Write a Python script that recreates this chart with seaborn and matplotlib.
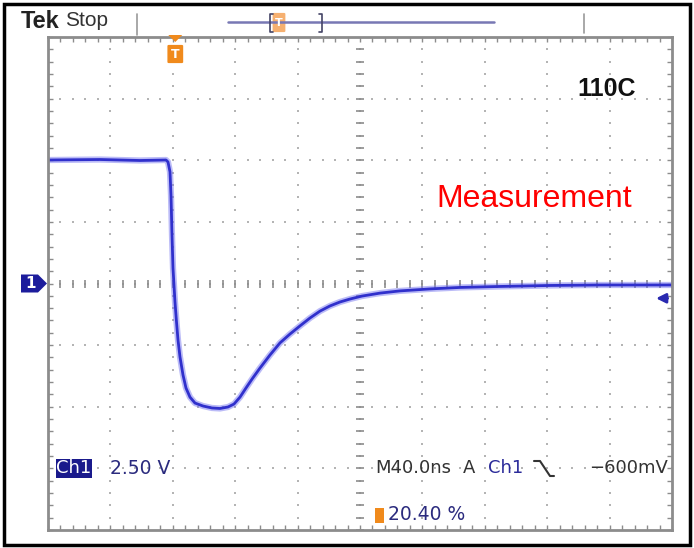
import numpy as np
import pandas as pd
import matplotlib
matplotlib.use("Agg")
import matplotlib.pyplot as plt
import seaborn as sns
from matplotlib.patches import Polygon, Rectangle, FancyBboxPatch
from matplotlib.lines import Line2D

# ---------------- data ----------------
time_ns = [-81.6, -48.3, -22.6, -5.96, -4.68, -3.40, -2.76, -2.12, -1.48, -0.84, -0.20,
           0.77, 1.73, 3.01, 4.94, 6.86, 9.42, 12.63, 17.76, 23.52, 28.65, 33.78, 37.63,
           41.47, 45.32, 49.16, 54.29, 60.70, 67.11, 73.52, 79.93, 86.34, 92.75, 99.16,
           105.57, 111.98, 119.67, 131.21, 144.03, 163.26, 182.49, 208.13, 240.18,
           272.23, 318.4]
volts = [5.01, 5.03, 4.99, 5.01, 4.93, 4.53, 3.59, 1.97, 0.63, -0.06, -0.75,
         -1.56, -2.29, -2.98, -3.71, -4.24, -4.61, -4.85, -4.97, -5.05, -5.07, -5.01, -4.89,
         -4.61, -4.24, -3.88, -3.43, -2.90, -2.41, -2.05, -1.72, -1.40, -1.12, -0.91,
         -0.75, -0.63, -0.51, -0.39, -0.30, -0.22, -0.16, -0.12, -0.08,
         -0.06, -0.06]

volts_per_div = 2.5
ns_per_div = 40.0
trigger_pct = 20.40
trigger_level = -0.6
header_left = "Tek"
header_right = "Stop"
temp_label = "110C"
note_label = "Measurement"
ch_label = "Ch1"
scale_label = "2.50 V"
time_label = "M40.0ns"
src_a = "A"
level_label = "\u2212600mV"
pos_label = "20.40 %"

df = pd.DataFrame({"time": time_ns, "volt": volts})

# ---------------- figure ----------------
sns.set_theme(style="white")
plt.rcParams['font.family'] = ['DejaVu Sans']
W, H = 694, 548
fig = plt.figure(figsize=(W / 100, H / 100), dpi=100)
fig.patch.set_facecolor("white")

def fx(px):
    return px / W

def fy(py):
    return 1 - py / H

L, R, T, B = 48, 672, 37, 530
ax = fig.add_axes([fx(L), fy(B), (R - L) / W, (B - T) / H])

t_left = -trigger_pct / 100 * 10 * ns_per_div
t_right = t_left + 10 * ns_per_div
ax.set_xlim(t_left, t_right)
ax.set_ylim(-4 * volts_per_div, 4 * volts_per_div)

# graticule dots
grid_col = "#b4b4b4"
xmaj = t_left + ns_per_div * np.arange(0, 11)
ymaj = volts_per_div * np.arange(-4, 5)
xmin = t_left + ns_per_div / 5 * np.arange(0, 51)
ymin = volts_per_div / 5 * np.arange(-20, 21)
for xv in xmaj[1:-1]:
    ax.plot(np.full_like(ymin, xv), ymin, ls="none", marker="s", ms=1.5, color=grid_col, mew=0)
for yv in ymaj[1:-1]:
    ax.plot(xmin, np.full_like(xmin, yv), ls="none", marker="s", ms=1.5, color=grid_col, mew=0)
# center cross ticks
xc = t_left + 5 * ns_per_div
ax.plot(np.full_like(ymin, xc), ymin, ls="none", marker="_", ms=6, mew=1.2, color="#8c8c8c")
ax.plot(xmin, np.zeros_like(xmin), ls="none", marker="|", ms=6, mew=1.2, color="#8c8c8c")

# trace
sns.lineplot(data=df, x="time", y="volt", ax=ax, color="#6a6aee", lw=4.5, alpha=0.45,
             sort=False, estimator=None, legend=False)
sns.lineplot(data=df, x="time", y="volt", ax=ax, color="#3030cc", lw=2.0,
             sort=False, estimator=None, legend=False)

ax.set_xticks(xmaj)
ax.set_yticks(ymaj)
ax.set_xticks(xmin, minor=True)
ax.set_yticks(ymin, minor=True)
ax.tick_params(which="both", direction="in", top=True, right=True, bottom=True, left=True,
               length=3.5, width=1.0, color="#8c8c8c", labelbottom=False, labelleft=False)
ax.set_xlabel("")
ax.set_ylabel("")
for s in ax.spines.values():
    s.set_color("#8c8c8c")
    s.set_linewidth(2)

# ---------------- annotations ----------------
fig.text(fx(607), fy(89), temp_label, ha="center", va="center",
         fontsize=18, fontweight="bold", color="#111111", family="Liberation Sans")
fig.text(fx(534), fy(199), note_label, ha="center", va="center", fontsize=23,
         color="#ff0000", family="Liberation Sans")

# header
fig.text(fx(21), fy(21), header_left, ha="left", va="center", fontsize=17,
         fontweight="bold", color="#222222", family="Liberation Sans")
fig.text(fx(65), fy(21), header_right, ha="left", va="center", fontsize=15,
         color="#333333", family="Liberation Sans")
fig.add_artist(Line2D([fx(137), fx(137)], [fy(14), fy(35)], color="#9a9a9a", lw=1.2))
fig.add_artist(Line2D([fx(584), fx(584)], [fy(14), fy(33)], color="#9a9a9a", lw=1.2))
fig.add_artist(Line2D([fx(228), fx(494)], [fy(22), fy(22)], color="#7878b4", lw=1.8))
fig.add_artist(Line2D([fx(273), fx(270), fx(270), fx(273)], [fy(14), fy(14), fy(32), fy(32)],
                      color="#444466", lw=1.2))
fig.add_artist(Line2D([fx(319), fx(322), fx(322), fx(319)], [fy(14), fy(14), fy(32), fy(32)],
                      color="#444466", lw=1.2))
fig.add_artist(FancyBboxPatch((fx(274), fy(31)), fx(10), 17 / H,
                              boxstyle="round,pad=0.002", fc="#f6b070", ec="none"))
fig.text(fx(279), fy(23), "T", ha="center", va="center", fontsize=8, color="white",
         fontweight="bold")

# trigger position marker
trig_px = L + trigger_pct / 100 * (R - L)
fig.add_artist(Polygon([[fx(trig_px - 7), fy(35)], [fx(trig_px + 7), fy(35)],
                        [fx(trig_px), fy(42)]], closed=True, fc="#f08a1c", ec="none"))
fig.add_artist(FancyBboxPatch((fx(trig_px - 6.5), fy(62)), 13 / W, 16 / H,
                              boxstyle="round,pad=0.002", fc="#f08a1c", ec="none"))
fig.text(fx(trig_px), fy(54), "T", ha="center", va="center", fontsize=9, color="white",
         fontweight="bold")

# channel ground marker
gnd = (T + B) / 2
fig.add_artist(Polygon([[fx(21), fy(gnd - 9)], [fx(38), fy(gnd - 9)], [fx(47), fy(gnd)],
                        [fx(38), fy(gnd + 9)], [fx(21), fy(gnd + 9)]],
                       closed=True, fc="#1c1c9c", ec="none"))
fig.text(fx(31), fy(gnd), "1", ha="center", va="center", fontsize=11, color="white",
         fontweight="bold")

# trigger level arrow on right
ax.annotate("", xy=(t_right - 12, trigger_level), xytext=(t_right - 1, trigger_level),
            arrowprops=dict(arrowstyle="-|>", color="#2a2ab0", lw=2.0, mutation_scale=14))

# bottom readout
fs = 13
fig.add_artist(Rectangle((fx(56), fy(478)), 36 / W, 19 / H, fc="#1a1a8c", ec="none"))
fig.text(fx(74), fy(468), ch_label, ha="center", va="center", fontsize=13, color="white")
fig.text(fx(110), fy(468), scale_label, ha="left", va="center", fontsize=13.5, color="#2b2b7e")
fig.text(fx(375), fy(468), time_label, ha="left", va="center", fontsize=fs, color="#333333")
fig.text(fx(463), fy(468), src_a, ha="left", va="center", fontsize=fs, color="#333333")
fig.text(fx(488), fy(468), ch_label, ha="left", va="center", fontsize=fs, color="#2b2b9a")
fig.add_artist(Line2D([fx(534), fx(540), fx(550), fx(554)],
                      [fy(461), fy(461), fy(476), fy(476)], color="#333333", lw=1.5))
fig.text(fx(668), fy(468), level_label, ha="right", va="center", fontsize=fs, color="#333333")
fig.add_artist(Rectangle((fx(375), fy(523)), 9 / W, 15 / H, fc="#f08a1c", ec="none"))
fig.text(fx(388), fy(515), pos_label, ha="left", va="center", fontsize=13.5, color="#2b2b7e")

# outer frame
fig.add_artist(Rectangle((fx(4), fy(545)), 686 / W, 541 / H, fill=False, ec="black", lw=2.5))

fig.savefig("out.png", dpi=100, facecolor="white")
